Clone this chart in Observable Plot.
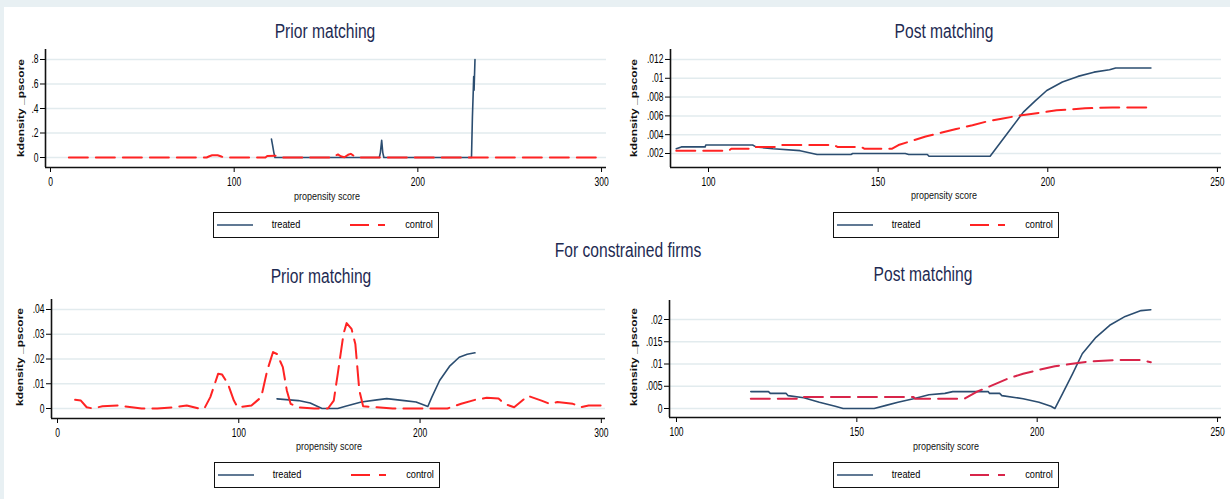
<!DOCTYPE html>
<html><head><meta charset="utf-8">
<script src="https://cdn.jsdelivr.net/npm/d3@7"></script>
<script src="https://cdn.jsdelivr.net/npm/@observablehq/plot@0.6"></script>
<style>
body{margin:0;background:#e8f0f3;}
#root{position:relative;width:1230px;height:499px;overflow:hidden;font-family:"Liberation Sans",Arial,sans-serif;}
.t{position:absolute;white-space:nowrap;line-height:1;}
</style></head><body><div id="root"></div>
<script>
// ---------- DATA ----------
const seriesNames = ["treated", "control"];
const panelTitles = ["Prior matching", "Post matching", "Prior matching", "Post matching"];
const mainTitle = "For constrained firms";
const xLabel = "propensity score";
const yLabel = "kdensity _pscore";

const xTicksPrior = [0, 100, 200, 300];
const xTickLabelsPrior = ["0", "100", "200", "300"];
const xTicksPost = [100, 150, 200, 250];
const xTickLabelsPost = ["100", "150", "200", "250"];

const yTicksAllPrior = [0, 0.2, 0.4, 0.6, 0.8];
const yTickLabelsAllPrior = ["0", ".2", ".4", ".6", ".8"];
const yTicksAllPost = [0.002, 0.004, 0.006, 0.008, 0.01, 0.012];
const yTickLabelsAllPost = [".002", ".004", ".006", ".008", ".01", ".012"];
const yTicksConPrior = [0, 0.01, 0.02, 0.03, 0.04];
const yTickLabelsConPrior = ["0", ".01", ".02", ".03", ".04"];
const yTicksConPost = [0, 0.005, 0.01, 0.015, 0.02];
const yTickLabelsConPost = ["0", ".005", ".01", ".015", ".02"];

// [propensity score, density]
const allPriorTreated = [[120.3,0.15],[120.8,0.11],[121.6,0.04],[122.2,0],[179,0],[179.6,0.04],[180.3,0.14],[180.9,0.04],[181.5,0],[229.2,0],[229.7,0.33],[230.2,0.56],[230.4,0.66],[230.6,0.55],[231.1,0.8]];
const allPriorControl = [[10,0],[85,0],[86.5,0.01],[88,0.018],[91,0.018],[93,0.008],[94.5,0],[117,0],[118,0.012],[124,0.014],[125.5,0.006],[126.5,0],[153.5,0],[155,0.015],[156.5,0.025],[158,0.01],[160,0.002],[162,0.022],[163.5,0.03],[165,0.015],[167,0],[300,0]];

const allPostTreated = [[90.5,0.0025],[92,0.0027],[99,0.0027],[99.2,0.0029],[113,0.0029],[114,0.0027],[119,0.0025],[127,0.0023],[132,0.0019],[142,0.0019],[142.5,0.002],[158,0.002],[159,0.0019],[164.5,0.0019],[165,0.0017],[183,0.0017],[188,0.0041],[192.8,0.0064],[196.3,0.0076],[199.7,0.0087],[204.3,0.0096],[208.9,0.0102],[213.6,0.01065],[218.2,0.0109],[220,0.0111],[230.4,0.0111]];
const allPostControl = [[90.5,0.0023],[106,0.0023],[106.7,0.0025],[112,0.0025],[112.5,0.0027],[120,0.0027],[121,0.0029],[137,0.0029],[138,0.0027],[145,0.0027],[146,0.0025],[154,0.0025],[156,0.0029],[160.4,0.0034],[164,0.0038],[168.5,0.0042],[173,0.0046],[177.8,0.005],[182,0.0054],[186.4,0.0057],[191,0.006],[195.1,0.0062],[199,0.0064],[202.6,0.0066],[207,0.0067],[211,0.0068],[219,0.0069],[230.4,0.0069]];

const conPriorTreated = [[121.1,0.0039],[132.9,0.0032],[139.4,0.0022],[145.9,0],[154.6,0],[158.9,0.0009],[167.6,0.0026],[176.2,0.0035],[181.6,0.004],[191.3,0.0032],[197.8,0.0026],[204.3,0.0008],[206.5,0.0046],[210.8,0.0113],[216.2,0.017],[221.6,0.0207],[226,0.0219],[230.3,0.0225]];
const conPriorControl = [[9.7,0.0035],[12.9,0.0032],[16.1,0.0005],[19.4,0],[24.8,0.0009],[33.4,0.0012],[41,0.0005],[46.4,0],[55,0],[63.7,0.0005],[71.3,0.0012],[77.8,0],[81,0],[84.3,0.0046],[88.6,0.014],[90.8,0.0137],[94,0.01],[97.3,0.0032],[99.4,0.0005],[107,0.0012],[112.4,0.0046],[115.7,0.0154],[118.9,0.0228],[121.1,0.022],[124.3,0.0167],[126.5,0.0073],[128.6,0.0019],[132.9,0.0005],[141.6,0],[149.2,0],[152.4,0.0032],[154.6,0.014],[157.8,0.0302],[159.5,0.0345],[162.2,0.0322],[164.3,0.0261],[166.5,0.0073],[168.6,0.0009],[176.2,0.0005],[184.9,0],[215.1,0],[222.7,0.0019],[230.3,0.0035],[236.8,0.0043],[243.3,0.004],[246.5,0.0019],[251.9,0.0005],[259.5,0.0051],[267,0.0032],[271.4,0.0019],[275.7,0.0026],[284.3,0.0019],[288.7,0.0005],[293,0.0012],[300.6,0.0012]];

const conPostTreated = [[120.6,0.0038],[125.5,0.0038],[126,0.0034],[130.4,0.0034],[130.9,0.0029],[135.3,0.0024],[139.6,0.0014],[144,0.0005],[146.2,0],[154.8,0],[158.1,0.0007],[161.4,0.0014],[165.7,0.0022],[170,0.0031],[174.4,0.0034],[176.6,0.0038],[186.4,0.0038],[186.8,0.0034],[189.6,0.0034],[190.2,0.0029],[196.1,0.0022],[200.5,0.0014],[203.8,0.0005],[204.9,0],[207,0.0033],[209.8,0.0078],[212.5,0.0123],[216.3,0.016],[220.1,0.0187],[224.4,0.0207],[228.8,0.022],[231.5,0.0222]];
const conPostControl = [[120.6,0.0022],[134.2,0.0022],[134.6,0.0026],[165.7,0.0026],[166.1,0.0022],[179.8,0.0022],[183.1,0.0037],[187.5,0.0052],[191.8,0.0067],[196.1,0.0078],[200.5,0.0087],[204.9,0.0095],[209.2,0.01],[214.7,0.0106],[222.3,0.0109],[228.8,0.0109],[231.5,0.0104]];

// ---------- LAYOUT ----------
const FONT = '"Liberation Sans", Arial, sans-serif';
const NAVY = "#2b4d70";
const SQ = 0.78;
const panels = [
  {frame:[45,606,49,167], xDomain:[-2.72,302.7], yDomain:[-0.0816,0.8816],
   xTicks:xTicksPrior, xLabels:xTickLabelsPrior, yTicks:yTicksAllPrior, yLabels:yTickLabelsAllPrior,
   treated:allPriorTreated, control:allPriorControl, cc:"#ff2323",
   title:[325,31], xl:[327,197], yl:[21,108], legend:[213,212]},
  {frame:[670,1221,49,167], xDomain:[88.8,251.2], yDomain:[0.00051,0.01306],
   xTicks:xTicksPost, xLabels:xTickLabelsPost, yTicks:yTicksAllPost, yLabels:yTickLabelsAllPost,
   treated:allPostTreated, control:allPostControl, cc:"#ff2323",
   title:[944,31], xl:[944,196], yl:[634,108], legend:[833,212]},
  {frame:[51,605,299,418], xDomain:[-3.31,302.3], yDomain:[-0.00404,0.04404],
   xTicks:xTicksPrior, xLabels:xTickLabelsPrior, yTicks:yTicksConPrior, yLabels:yTickLabelsConPrior,
   treated:conPriorTreated, control:conPriorControl, cc:"#ff2323",
   title:[321,276], xl:[329,447], yl:[20,357], legend:[214,462]},
  {frame:[669,1221,300,417], xDomain:[98.06,251.1], yDomain:[-0.00202,0.02427],
   xTicks:xTicksPost, xLabels:xTickLabelsPost, yTicks:yTicksConPost, yLabels:yTickLabelsConPost,
   treated:conPostTreated, control:conPostControl, cc:"#d8254a",
   title:[923,274], xl:[946,447], yl:[634,357], legend:[833,462]}
];

const root = document.getElementById("root");
const bg = document.createElement("div");
Object.assign(bg.style, {position:"absolute", left:"4px", top:"7px", right:"0", bottom:"0", background:"#fff"});
root.appendChild(bg);

function addText(str, cx, cy, size, opts = {}) {
  const d = document.createElement("div");
  d.className = "t";
  d.textContent = str;
  d.style.left = cx + "px";
  d.style.top = cy + "px";
  d.style.fontSize = size + "px";
  d.style.color = opts.color || "#000";
  if (opts.weight) d.style.fontWeight = opts.weight;
  d.style.transform = opts.rotate
    ? `translate(-50%,-50%) rotate(-90deg) scaleY(${opts.sq || SQ})`
    : `translate(-50%,-50%) scaleX(${opts.sq || SQ})`;
  root.appendChild(d);
  return d;
}

function fmt(ticks, labels) {
  return d => { const i = ticks.findIndex(t => Math.abs(t - d) < 1e-9); return i < 0 ? "" : labels[i]; };
}

function squishSvgText(svg, f) {
  svg.querySelectorAll("text").forEach(t => {
    const w = t.getComputedTextLength();
    if (w > 0) { t.setAttribute("textLength", (w * f).toFixed(2)); t.setAttribute("lengthAdjust", "spacingAndGlyphs"); }
  });
}

function addLegend(p) {
  const [lx, ly] = p.legend, w = 226, h = 26;
  const box = document.createElement("div");
  Object.assign(box.style, {position:"absolute", left:lx+"px", top:ly+"px", width:w+"px", height:h+"px",
    border:"1.6px solid #111", boxSizing:"border-box", background:"#fff"});
  root.appendChild(box);
  const ns = "http://www.w3.org/2000/svg";
  const s = document.createElementNS(ns, "svg");
  s.setAttribute("width", w); s.setAttribute("height", h);
  Object.assign(s.style, {position:"absolute", left:lx+"px", top:ly+"px"});
  const mk = (x1, x2, col, sw, dash) => {
    const l = document.createElementNS(ns, "line");
    l.setAttribute("x1", x1); l.setAttribute("x2", x2); l.setAttribute("y1", h/2); l.setAttribute("y2", h/2);
    l.setAttribute("stroke", col); l.setAttribute("stroke-width", sw);
    if (dash) l.setAttribute("stroke-dasharray", dash);
    s.appendChild(l);
  };
  mk(4, 40, NAVY, 1.6);
  mk(137, 172, p.cc, 2, "19,9");
  root.appendChild(s);
  addText(seriesNames[0], lx + 73, ly + h/2, 11.5, {sq:0.8});
  addText(seriesNames[1], lx + 206, ly + h/2, 11.5, {sq:0.8});
}

panels.forEach((p, k) => {
  const [fx0, fx1, fy0, fy1] = p.frame;
  const ml = 45, mr = 12, mt = 4, mb = 26;
  const W = fx1 - fx0 + ml + mr, H = fy1 - fy0 + mt + mb;
  const chart = Plot.plot({
    width: W, height: H, marginLeft: ml, marginRight: mr, marginTop: mt, marginBottom: mb,
    style: {fontFamily: FONT, fontSize: "12.5px", color: "#000", background: "transparent", overflow: "visible"},
    x: {domain: p.xDomain, ticks: p.xTicks, tickFormat: fmt(p.xTicks, p.xLabels), tickSize: 5, tickPadding: 5, label: null},
    y: {domain: p.yDomain, ticks: p.yTicks, tickFormat: fmt(p.yTicks, p.yLabels), tickSize: 5, tickPadding: 2, label: null},
    marks: [
      Plot.ruleY(p.yTicks, {stroke: "#e2ebee", strokeWidth: 1.5}),
      Plot.line(p.treated, {stroke: NAVY, strokeWidth: 1.6}),
      Plot.line(p.control, {stroke: p.cc, strokeWidth: 2, strokeDasharray: "19,8"}),
      Plot.ruleX([p.xDomain[0]], {stroke: "#111", strokeWidth: 1.6}),
      Plot.ruleY([p.yDomain[0]], {stroke: "#111", strokeWidth: 1.6})
    ]
  });
  Object.assign(chart.style, {position: "absolute", left: (fx0 - ml) + "px", top: (fy0 - mt) + "px"});
  root.appendChild(chart);
  squishSvgText(chart, 0.68);

  addText(panelTitles[k], p.title[0], p.title[1], 20, {color: "#1e2a52"});
  addText(xLabel, p.xl[0], p.xl[1], 11.5, {color: "#111"});
  addText(yLabel, p.yl[0], p.yl[1], 12, {rotate: true, weight: "bold", color: "#111", sq: 0.72});
  addLegend(p);
});

addText(mainTitle, 628, 250, 20, {color: "#1e2a52"});
</script></body></html>
